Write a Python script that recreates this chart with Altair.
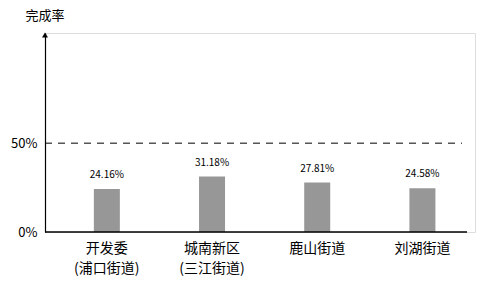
import altair as alt
import pandas as pd

categories = ["开发委\n(浦口街道)", "城南新区\n(三江街道)", "鹿山街道", "刘湖街道"]
rates = [0.2416, 0.3118, 0.2781, 0.2458]
ref_value = [0.5]

df = pd.DataFrame({"cat": categories, "rate": rates})
FONT = "Noto Sans CJK SC"

x_enc = alt.X("cat:N", sort=categories,
              scale=alt.Scale(paddingInner=0, paddingOuter=0.044, align=1),
              axis=alt.Axis(title=None, labelAngle=0, domain=False, ticks=False,
                            labelPadding=9, labelFontSize=14, labelColor="black",
                            labelFont=FONT, labelLineHeight=20,
                            labelExpr="split(datum.label, '\\n')"))
y_scale = alt.Scale(domain=[0, 1.12], nice=False)

base = alt.Chart(df)
bars = base.mark_bar(size=26, color="#979797").encode(
    x=x_enc,
    y=alt.Y("rate:Q", scale=y_scale,
            axis=alt.Axis(values=[0, 0.5], format=".0%", ticks=False, grid=False,
                          domainColor="black", domainWidth=1.2,
                          labelFontSize=13, labelColor="black", labelFont=FONT,
                          labelPadding=8,
                          title="完成率", titleAngle=0, titleAlign="left",
                          titleBaseline="middle", titleX=-20, titleY=-18,
                          titleFontSize=13, titleFontWeight="normal",
                          titleFont=FONT, titleColor="black")),
)
labels = base.mark_text(dy=-9, fontSize=10, font=FONT, color="black", baseline="bottom").encode(
    x=alt.X("cat:N", sort=categories),
    y=alt.Y("rate:Q", scale=y_scale),
    text=alt.Text("rate:Q", format=".2%"),
)
ref_df = pd.DataFrame({"v": ref_value})
dashed = alt.Chart(ref_df).mark_rule(color="black", strokeDash=[7, 6], strokeWidth=1).encode(
    y=alt.Y("v:Q", scale=y_scale), x=alt.value(0), x2=alt.value(417))
baseline = alt.Chart(pd.DataFrame({"v": [0]})).mark_rule(color="black", strokeWidth=1.5).encode(
    y=alt.Y("v:Q", scale=y_scale), x=alt.value(0), x2=alt.value(422))
arrow = alt.Chart(pd.DataFrame({"v": [0]})).mark_point(
    shape="triangle-up", filled=True, color="black", size=35, opacity=1).encode(
    x=alt.value(0), y=alt.value(2))

chart = alt.layer(bars, labels, dashed, baseline, arrow).properties(
    width=430, height=199, autosize="none",
    padding={"left": 45, "top": 33, "right": 6, "bottom": 56},
).configure_view(stroke=None).configure(background="white")

chart.save("out.html", embed_options={"renderer": "svg", "actions": False})
